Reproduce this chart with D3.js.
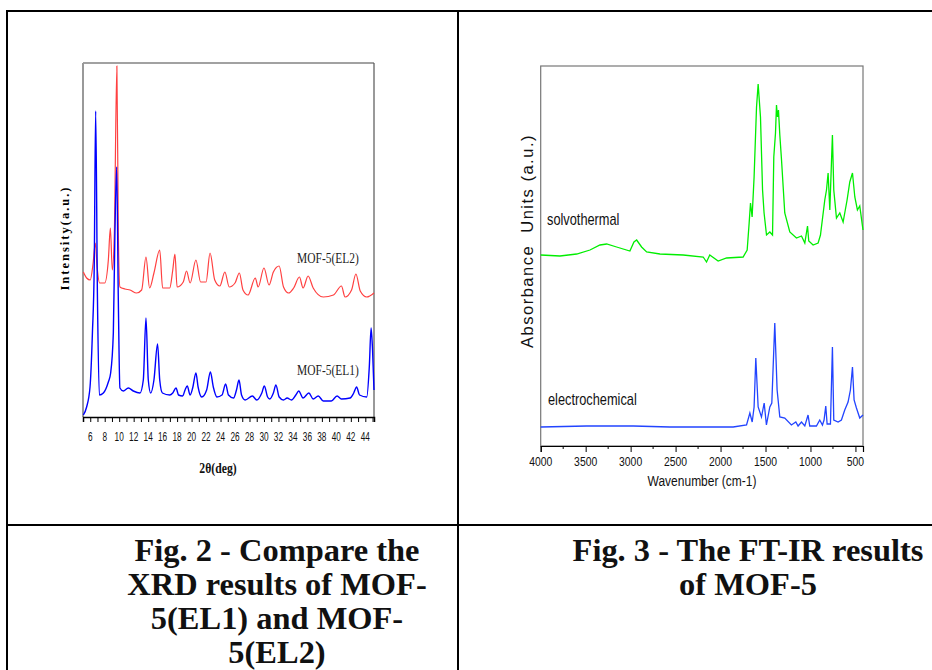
<!DOCTYPE html>
<html><head><meta charset="utf-8">
<script src="https://cdn.jsdelivr.net/npm/d3@7"></script>
<style>
body{margin:0;background:#fff;}
svg{display:block;}
</style></head>
<body>
<svg id="c" width="932" height="670"></svg>
<script>
// ---------- DATA ----------
// XRD (2theta deg, intensity a.u.)
const xrdEL1 = [[5.05,2],[5.5,10],[5.97,30],[6.3,84],[6.55,150],[6.75,306],[7.0,117],[7.26,22],[7.81,24],[8.5,35],[8.82,44],[9.19,84],[9.4,180],[9.65,250],[9.88,117],[10.1,29],[10.57,26],[11.26,29],[11.95,26],[12.87,24],[13.33,37],[13.7,99],[14.02,37],[14.35,24],[14.8,37],[15.3,73],[15.6,37],[15.97,24],[16.98,22],[17.4,24],[17.85,29],[18.2,22],[18.76,21],[19.1,27],[19.4,31],[19.8,22],[20.15,29],[20.6,44],[20.9,30],[21.4,20],[22.08,27],[22.6,45],[23.0,30],[23.5,20],[24.2,22],[24.7,33],[25.1,22],[25.8,19],[26.2,27],[26.55,37],[26.9,22],[27.4,17],[28.4,21],[29.0,17],[29.7,24],[30.05,31],[30.5,20],[30.8,18],[31.3,24],[31.65,32],[32.1,20],[32.7,17],[33.2,19],[33.8,17],[34.4,22],[34.8,26],[35.4,19],[36.2,24],[36.8,18],[37.5,21],[38.2,16],[39.3,16],[40.1,21],[40.7,18],[41.9,19],[42.4,24],[42.8,30],[43.2,22],[44.2,20],[44.55,50],[44.8,89],[45.0,67],[45.2,27]];
const xrdEL2 = [[5.05,145],[5.5,139],[6.0,137],[6.4,154],[6.7,174],[6.95,150],[7.3,134],[8.0,134],[8.5,157],[8.78,189],[9.05,147],[9.33,184],[9.68,351],[9.88,184],[10.1,130],[10.8,128],[11.5,127],[12.4,124],[13.1,127],[13.7,160],[14.2,129],[14.8,144],[15.6,167],[16.0,129],[16.98,129],[17.4,147],[17.7,163],[18.0,130],[18.85,135],[19.3,146],[19.8,134],[20.6,157],[21.25,135],[22.0,135],[22.55,164],[23.2,137],[23.9,131],[24.6,145],[25.2,130],[26.0,134],[26.6,144],[27.1,127],[27.8,122],[28.8,139],[29.2,130],[30.0,149],[30.7,132],[31.3,145],[32.1,151],[32.7,130],[33.4,124],[34.1,129],[34.9,140],[35.4,129],[36.1,141],[36.8,129],[38.2,120],[39.6,122],[40.7,131],[41.2,120],[42.1,127],[42.7,143],[43.3,126],[44.2,120],[45.2,124]];
const xrdTicks = [6,8,10,12,14,16,18,20,22,24,26,28,30,32,34,36,38,40,42,44];
const xrdLabels = ["MOF-5(EL2)","MOF-5(EL1)"];

// FT-IR (wavenumber cm-1, absorbance a.u.)
const irSolvo = [[4000,191],[3786,190],[3600,192],[3452,196],[3341,201],[3267,202],[3156,199],[3008,195],[2963,204],[2933,206],[2878,199],[2822,194],[2674,192],[2416,191],[2193,189],[2156,184],[2120,191],[2027,185],[1933,188],[1749,189],[1704,196],[1682,223],[1667,243],[1649,229],[1627,269],[1600,339],[1582,362],[1556,329],[1533,256],[1516,233],[1489,211],[1452,214],[1422,211],[1408,289],[1389,313],[1378,341],[1367,329],[1356,336],[1341,311],[1322,286],[1286,233],[1230,214],[1156,208],[1100,210],[1063,203],[1033,220],[1019,205],[971,201],[915,203],[889,211],[841,246],[822,256],[804,273],[785,236],[767,283],[756,311],[741,256],[711,228],[674,233],[637,224],[593,246],[563,264],[533,273],[507,249],[478,236],[452,240],[416,216]];
const irElectro = [[4000,19],[3489,20],[2971,20],[2563,19],[2174,19],[1860,19],[1711,21],[1674,33],[1648,24],[1627,39],[1608,88],[1582,39],[1545,29],[1515,43],[1490,21],[1452,39],[1430,43],[1397,123],[1371,56],[1341,29],[1286,28],[1212,21],[1163,24],[1138,20],[1100,24],[1063,20],[1027,31],[1008,20],[934,20],[897,26],[867,21],[849,26],[830,40],[815,22],[778,22],[756,99],[741,26],[693,24],[656,26],[619,36],[582,44],[556,56],[533,79],[515,46],[489,38],[452,28],[416,31]];
const irTicks = [4000,3500,3000,2500,2000,1500,1000,500];
const irMinor = [3750,3250,2750,2250,1750,1250,750];
const irLabels = ["solvothermal","electrochemical"];

const caption2 = ["Fig. 2 - Compare the","XRD results of MOF-","5(EL1) and MOF-","5(EL2)"];
const caption3 = ["Fig. 3 - The FT-IR results","of MOF-5"];

// ---------- DRAW ----------
const svg = d3.select("#c");
const sans = "'Liberation Sans',Arial,sans-serif";
const serif = "'Liberation Serif','Times New Roman',serif";

// text with horizontal condensing
function stext(parent, x, y, txt, o) {
  const t = parent.append("text")
    .attr("transform", `translate(${x},${y}) scale(${o.sx||1},1)`)
    .attr("text-anchor", o.anchor||"start")
    .attr("font-family", o.family||sans)
    .attr("font-size", o.size||12)
    .attr("fill", o.fill||"#111")
    .text(txt);
  if (o.bold) t.attr("font-weight","bold");
  return t;
}

// table grid
const grid = svg.append("g").attr("stroke","#000").attr("stroke-width",2);
grid.append("line").attr("x1",6).attr("x2",932).attr("y1",11).attr("y2",11);
grid.append("line").attr("x1",7).attr("x2",7).attr("y1",10).attr("y2",670);
grid.append("line").attr("x1",458).attr("x2",458).attr("y1",10).attr("y2",670);
grid.append("line").attr("x1",6).attr("x2",932).attr("y1",525).attr("y2",525);

// ---- XRD chart ----
const L = {l:83, r:374, t:63, b:417};
const xX = d3.scaleLinear().domain([5,45.2]).range([L.l,L.r]);
const yX = d3.scaleLinear().domain([0,354]).range([L.b,L.t]);
const lineX = d3.line().x(d=>xX(d[0])).y(d=>yX(d[1])).curve(d3.curveMonotoneX);

svg.append("line").attr("x1",L.l).attr("x2",L.r).attr("y1",L.t).attr("y2",L.t).attr("stroke","#444").attr("stroke-width",1.2);
svg.append("line").attr("x1",L.r).attr("x2",L.r).attr("y1",L.t).attr("y2",L.b).attr("stroke","#555").attr("stroke-width",1.2);
svg.append("line").attr("x1",L.l).attr("x2",L.l).attr("y1",L.t).attr("y2",L.b).attr("stroke","#999").attr("stroke-width",2);

svg.append("path").datum(xrdEL2).attr("d",lineX).attr("fill","none").attr("stroke","#ff4040").attr("stroke-width",1.2);
svg.append("path").datum(xrdEL1).attr("d",lineX).attr("fill","none").attr("stroke","#0000ff").attr("stroke-width",1.4);

const axX = svg.append("g").attr("transform",`translate(0,${L.b})`)
  .call(d3.axisBottom(xX).tickValues(d3.range(5,46,1)).tickSize(5).tickFormat(""));
axX.select(".domain").attr("stroke","#000").attr("stroke-width",1.5);
axX.selectAll(".tick line").attr("stroke","#000");
const gxl = svg.append("g");
xrdTicks.forEach(d => stext(gxl, xX(d), 441, d, {anchor:"middle", size:12.5, sx:0.66}));
stext(svg, 218, 473, "2θ(deg)", {anchor:"middle", family:serif, bold:true, size:15, sx:0.78});
svg.append("text").attr("transform","translate(69,238) rotate(-90)").attr("text-anchor","middle")
  .attr("font-family",serif).attr("font-weight","bold").attr("font-size",12.5).attr("letter-spacing",2)
  .text("Intensity(a.u.)");
stext(svg, 328, 263, xrdLabels[0], {anchor:"middle", family:serif, size:15.5, sx:0.74, fill:"#222"});
stext(svg, 328, 375, xrdLabels[1], {anchor:"middle", family:serif, size:15.5, sx:0.74, fill:"#222"});

// ---- FT-IR chart ----
const R = {l:540.7, r:863, t:66, b:446};
const xI = d3.scaleLinear().domain([4000,416]).range([R.l,R.r]);
const yI = d3.scaleLinear().domain([0,380]).range([R.b,R.t]);
const lineI = d3.line().x(d=>xI(d[0])).y(d=>yI(d[1]));

svg.append("rect").attr("x",R.l).attr("y",R.t).attr("width",R.r-R.l).attr("height",R.b-R.t)
  .attr("fill","none").attr("stroke","#777").attr("stroke-width",1.2);
svg.append("path").datum(irSolvo).attr("d",lineI).attr("fill","none").attr("stroke","#00ee00").attr("stroke-width",1.3);
svg.append("path").datum(irElectro).attr("d",lineI).attr("fill","none").attr("stroke","#2244ff").attr("stroke-width",1.3);

const axI = svg.append("g").attr("transform",`translate(0,${R.b})`)
  .call(d3.axisBottom(xI).tickValues(irTicks).tickSize(6).tickFormat(""));
axI.select(".domain").attr("stroke","#000").attr("stroke-width",1.2);
axI.selectAll(".tick line").attr("stroke","#000");
svg.append("g").attr("transform",`translate(0,${R.b})`).selectAll("line").data(irMinor).join("line")
  .attr("x1",d=>xI(d)).attr("x2",d=>xI(d)).attr("y1",0).attr("y2",3).attr("stroke","#000");
const gil = svg.append("g");
irTicks.forEach(d => stext(gil, xI(d), 466, d, {anchor:"middle", size:13, sx:0.8}));
stext(svg, 702, 486, "Wavenumber (cm-1)", {anchor:"middle", size:15, sx:0.8});
svg.append("text").attr("transform","translate(533,241) rotate(-90)").attr("text-anchor","middle")
  .attr("font-family",sans).attr("font-size",16.5).attr("letter-spacing",1.5).attr("fill","#111")
  .style("white-space","pre").text("Absorbance  Units (a.u.)");
stext(svg, 547, 225, irLabels[0], {size:16, sx:0.8});
stext(svg, 548, 405, irLabels[1], {size:16, sx:0.8});

// ---- captions ----
const gc = svg.append("g");
caption2.forEach((d,i) => stext(gc, 277, 561+i*34, d, {anchor:"middle", family:serif, bold:true, size:31.5, sx:1.03}));
caption3.forEach((d,i) => stext(gc, 748, 561+i*34, d, {anchor:"middle", family:serif, bold:true, size:31.5, sx:1.03}));
</script>
</body></html>
